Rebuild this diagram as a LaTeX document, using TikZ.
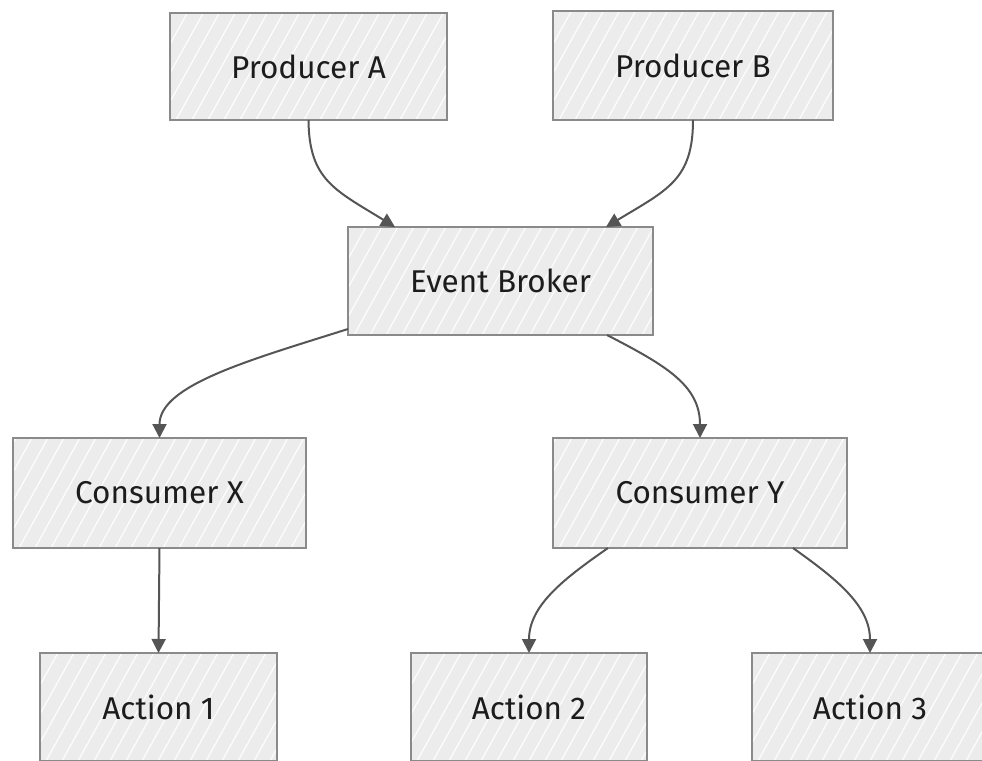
\documentclass[tikz,border=0pt]{standalone}
\usepackage{fontspec}
\setmainfont{Fira Sans}
\usetikzlibrary{arrows.meta,calc}

\definecolor{boxfill}{HTML}{ECECEC}
\definecolor{boxline}{HTML}{8A8A8A}
\definecolor{linkcol}{HTML}{555555}
\definecolor{textcol}{HTML}{1C1C1C}

\tikzset{
  hatched/.style={
    path picture={
      \foreach \i in {-90,-74,...,320} {
        \draw[white, line width=1.2pt, opacity=0.9]
          ([xshift=\i pt]path picture bounding box.south west) -- ++(72pt,130pt);
      }
    }
  },
  procbox/.style={
    draw=boxline, line width=2.4pt, fill=boxfill, hatched,
    rectangle, inner sep=0pt, outer sep=0pt,
    minimum height=108pt, text=textcol,
    font=\fontsize{31.5}{36}\selectfont
  },
  link/.style={
    draw=linkcol, line width=2pt,
    -{Triangle[length=14pt,width=14pt]}
  }
}

\begin{document}
\begin{tikzpicture}[x=1pt,y=-1pt]
  \clip (0,0) rectangle (982,760);
  \fill[white] (0,0) rectangle (982,760);

  % boxes
  \node[procbox, minimum width=277pt, minimum height=107pt] (pa) at (308.5,66.5) {Producer A};
  \node[procbox, minimum width=280pt, minimum height=109pt] (pb) at (693,65.5) {Producer B};
  \node[procbox, minimum width=305pt] (eb) at (500.5,281) {Event Broker};
  \node[procbox, minimum width=293pt, minimum height=110pt] (cx) at (159.5,493) {Consumer X};
  \node[procbox, minimum width=294pt, minimum height=110pt] (cy) at (700,493) {Consumer Y};
  \node[procbox, minimum width=237pt] (a1) at (158.5,707) {Action 1};
  \node[procbox, minimum width=236pt] (a2) at (529,707) {Action 2};
  \node[procbox, minimum width=236pt] (a3) at (870,707) {Action 3};

  % producers into the broker
  \draw[link] (pa.south) .. controls (309,180) and (335,190) .. ([xshift=47pt]eb.north west);
  \draw[link] (pb.south) .. controls (693,180) and (667,190) .. ([xshift=-47pt]eb.north east);

  % broker out to the consumers
  \draw[link] ([yshift=6pt]eb.south west) .. controls (250,360) and (159.5,385) .. (cx.north);
  \draw[link] ([xshift=-46pt]eb.south east) .. controls (665,365) and (700,385) .. (cy.north);

  % consumers to their actions
  \draw[link] (cx.south) -- (a1.north);
  \draw[link] ([xshift=55pt]cy.south west) .. controls (565,578) and (529,605) .. (a2.north);
  \draw[link] ([xshift=-54pt]cy.south east) .. controls (835,578) and (870,605) .. (a3.north);
\end{tikzpicture}
\end{document}
